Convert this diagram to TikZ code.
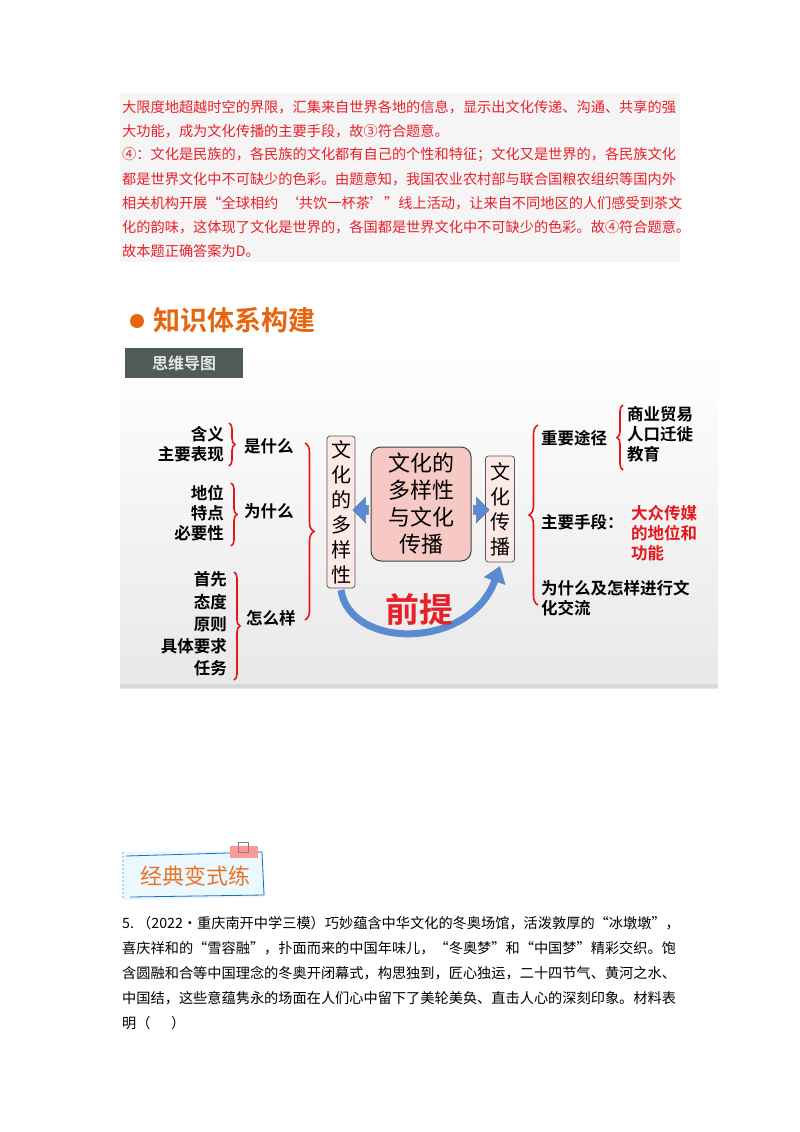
\documentclass[tikz,border=0pt]{standalone}
\usepackage{fontspec}
\setmainfont{Noto Sans CJK SC}
\newfontfamily\cjkb{Noto Sans CJK SC Bold}
\usetikzlibrary{decorations.pathreplacing,arrows.meta,shapes.arrows}
\definecolor{ansred}{HTML}{E8202A}
\definecolor{headorange}{HTML}{E8650F}
\definecolor{mmblue}{HTML}{5A8AD2}
\definecolor{boxpink}{HTML}{F6C9C4}
\definecolor{lightpink}{HTML}{FCE8E4}
\definecolor{bracered}{HTML}{E3161C}
\definecolor{hdrgray}{HTML}{4F5B57}
\tikzset{
  ans/.style={anchor=west,inner sep=0,text=ansred,font=\fontsize{14.2}{14}\selectfont},
  body/.style={anchor=west,inner sep=0,text=black,font=\fontsize{14.2}{14}\selectfont},
  mm/.style={inner sep=0,font=\cjkb\fontsize{16.5}{20}\selectfont,align=right},
  mml/.style={mm,anchor=west,align=left},
  brc/.style={draw=bracered,line width=1.6pt,decorate,decoration={brace,amplitude=6pt}},
  vbox/.style={draw=gray!70!black,fill=lightpink,rounded corners=3pt,line width=0.8pt},
  vtxt/.style={inner sep=0,font=\fontsize{20}{25}\selectfont,align=center}
}
\begin{document}
\begin{tikzpicture}[x=1pt,y=-1pt]
\useasboundingbox (0,0) rectangle (800,1132);
\fill[white] (0,0) rectangle (800,1132);
% answer block
\fill[gray!8] (120,93) rectangle (680,262);
\node[ans] (a1) at (122,107) {大限度地超越时空的界限，汇集来自世界各地的信息，显示出文化传递、沟通、共享的强};
\node[ans] (a2) at (122,131) {大功能，成为文化传播的主要手段，故③符合题意。};
\node[ans] (a3) at (122,155) {④：文化是民族的，各民族的文化都有自己的个性和特征；文化又是世界的，各民族文化};
\node[ans] (a4) at (122,179) {都是世界文化中不可缺少的色彩。由题意知，我国农业农村部与联合国粮农组织等国内外};
\node[ans] (a5) at (122,203) {相关机构开展“全球相约\ \ ‘共饮一杯茶’”线上活动，让来自不同地区的人们感受到茶文};
\node[ans] (a6) at (122,227) {化的韵味，这体现了文化是世界的，各国都是世界文化中不可缺少的色彩。故④符合题意。};
\node[ans] (a7) at (122,251) {故本题正确答案为D。};
% heading
\fill[headorange] (137,321) circle (7);
\node[anchor=west,inner sep=0,text=headorange,font=\cjkb\fontsize{27}{30}\selectfont] (head) at (153,320) {知识体系构建};
% mind map background
\shade[top color=white,bottom color=gray!18] (120,350) rectangle (718,688);
\fill[gray!30] (120,684) rectangle (718,688);
\fill[hdrgray] (125,348) rectangle (243,378);
\node[inner sep=0,text=gray!20,font=\cjkb\fontsize{16}{18}\selectfont] (mmh) at (184,363) {思维导图};
% left side
\node[mm,anchor=east] (l1) at (224,444) {含义\\主要表现};
\draw[brc] (229,423) -- (229,466);
\node[mml] (w1) at (244,446) {是什么};
\node[mm,anchor=east] (l2) at (224,513) {地位\\特点\\必要性};
\draw[brc] (231,483) -- (231,546);
\node[mml] (w2) at (244,511) {为什么};
\node[mm,anchor=east,font=\cjkb\fontsize{16.5}{22.2}\selectfont] (l3) at (227,624) {首先\\态度\\原则\\具体要求\\任务};
\draw[brc] (234,572) -- (234,680);
\node[mml] (w3) at (246,618) {怎么样};
\draw[brc,decoration={amplitude=9pt}] (305,443) -- (305,620);
% boxes
\node[vbox,minimum width=28pt,minimum height=152pt] (b1) at (341,512) {};
\node[vtxt] (b1t) at (341,512) {文\\化\\的\\多\\样\\性};
\node[draw=gray!50!black,fill=boxpink,rounded corners=10pt,line width=1pt,minimum width=100pt,minimum height=114pt,inner sep=0] (c) at (421,504) {};
\node[inner sep=0,font=\fontsize{22}{27}\selectfont,align=center] (ct) at (421,504) {文化的\\多样性\\与文化\\传播};
\node[vbox,minimum width=29pt,minimum height=106pt] (b2) at (500,509) {};
\node[vtxt] (b2t) at (500,509) {文\\化\\传\\播};
\node[single arrow,fill=mmblue,draw=mmblue!70!black,line width=0.3pt,minimum width=26pt,single arrow head extend=4pt,minimum height=16pt,inner sep=2pt,shape border rotate=180] (arL) at (363,510) {};
\node[single arrow,fill=mmblue,draw=mmblue!70!black,line width=0.3pt,minimum width=26pt,single arrow head extend=4pt,minimum height=16pt,inner sep=2pt] (arR) at (479,510) {};
% curved arrow
\coordinate (cs) at (341,590);
\coordinate (ce) at (500,566);
\draw[line width=7pt,mmblue,-{Triangle[length=16pt,width=22pt]}] (cs) .. controls (350,650) and (470,650) .. (ce);
\node[inner sep=0,text=ansred,font=\cjkb\fontsize{34}{36}\selectfont] (qt) at (419,609) {前提};
% right side
\draw[brc,decoration={amplitude=9pt}] (538,605) -- (538,425);
\node[mml] (r1) at (541,438) {重要途径};
\draw[brc] (623,470) -- (623,405);
\node[mml] (r1a) at (627,434) {商业贸易\\人口迁徙\\教育};
\node[mml] (r2) at (541,522) {主要手段：};
\node[mml,text=bracered] (r2a) at (631,533) {大众传媒\\的地位和\\功能};
\node[mml] (r3) at (541,598) {为什么及怎样进行文\\化交流};
% banner
\fill[cyan!8] (122,852) -- (262,850) -- (266,897) -- (124,900) -- cycle;
\draw[cyan!50!blue,line width=0.8pt] (126,856) -- (262,852) -- (264,895) -- (130,897);
\draw[cyan!40,line width=2pt,dotted] (123,852) -- (123,900);
\fill[pink!80!red] (230,846) rectangle (258,858);
\draw[gray,line width=0.6pt] (238,842) rectangle (248,852);
\node[inner sep=0,text=headorange!90,font=\fontsize{22}{24}\selectfont] (bn) at (195,876) {经典变式练};
% question
\node[body] (q1) at (122,923) {5.\ （2022·重庆南开中学三模）巧妙蕴含中华文化的冬奥场馆，活泼敦厚的“冰墩墩”，};
\node[body] (q2) at (122,948) {喜庆祥和的“雪容融”，扑面而来的中国年味儿，“冬奥梦”和“中国梦”精彩交织。饱};
\node[body] (q3) at (122,973) {含圆融和合等中国理念的冬奥开闭幕式，构思独到，匠心独运，二十四节气、黄河之水、};
\node[body] (q4) at (122,998) {中国结，这些意蕴隽永的场面在人们心中留下了美轮美奂、直击人心的深刻印象。材料表};
\node[body] (q5) at (122,1023) {明（\quad\ \ ）};
\end{tikzpicture}
\end{document}
